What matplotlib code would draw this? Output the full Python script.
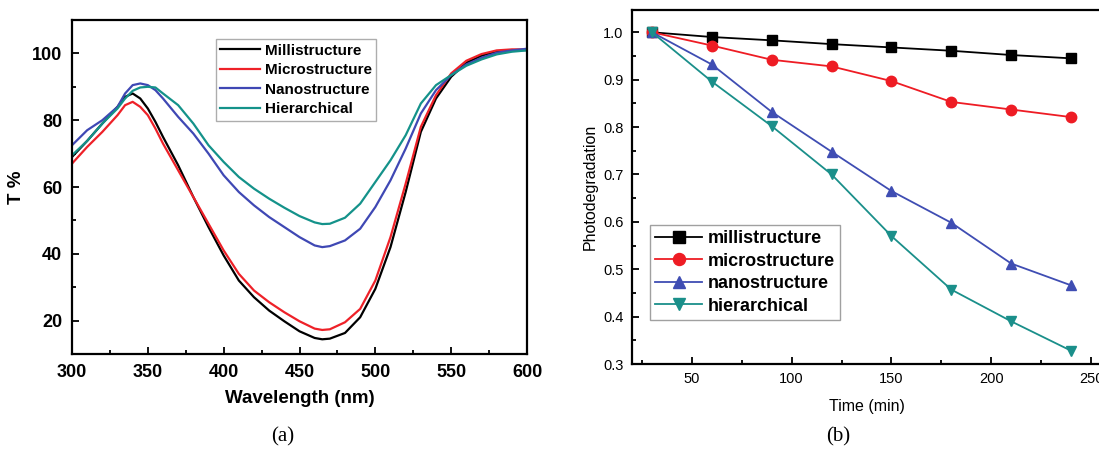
import matplotlib
matplotlib.use("Agg")
import matplotlib.pyplot as plt
from matplotlib.ticker import MultipleLocator, FormatStrFormatter

plt.rcParams['font.family'] = ['Liberation Sans', 'DejaVu Sans']

# ---- panel (a): transmittance spectra ----
wavelength = [300, 310, 320, 330, 335, 340, 345, 350, 355, 360, 370, 380, 390, 400,
              410, 420, 430, 440, 450, 460, 465, 470, 480, 490, 500, 510, 520, 530,
              540, 550, 560, 570, 580, 590, 600]
t_milli = [69.0, 73.8, 79.0, 84.0, 87.0, 88.0, 86.5, 83.5, 79.5, 75.0, 66.5, 57.0, 48.0, 39.5,
           32.0, 27.0, 23.0, 19.8, 16.8, 14.8, 14.4, 14.6, 16.3, 21.0, 29.5, 42.0, 58.5, 76.5,
           86.5, 93.0, 97.2, 99.3, 100.6, 101.0, 101.0]
t_micro = [67.0, 72.0, 76.5, 81.5, 84.5, 85.5, 84.0, 81.5, 77.5, 73.0, 65.0, 57.0, 49.0, 41.0,
           34.0, 29.0, 25.5, 22.5, 19.8, 17.6, 17.2, 17.4, 19.5, 23.5, 32.0, 45.0, 61.0, 78.0,
           87.5, 94.0, 97.8, 99.8, 100.9, 101.2, 101.2]
t_nano = [72.5, 77.0, 80.0, 84.0, 88.0, 90.5, 91.0, 90.5, 89.0, 86.5, 81.0, 76.0, 70.0, 63.5,
          58.5, 54.5, 51.0, 48.0, 45.0, 42.5, 42.0, 42.3, 44.0, 47.5, 54.0, 62.0, 71.5, 82.0,
          89.0, 93.5, 96.7, 98.7, 100.2, 100.9, 101.4]
t_hier = [69.5, 73.8, 79.0, 83.5, 86.5, 88.8, 89.8, 90.0, 89.8, 88.0, 84.5, 79.0, 72.5, 67.5,
          63.0, 59.5, 56.5, 53.8, 51.3, 49.4, 48.9, 49.0, 50.8, 55.0, 61.5, 68.0, 75.5, 85.0,
          90.5, 93.5, 96.3, 98.2, 99.7, 100.5, 100.9]
labels_a = ['Millistructure', 'Microstructure', 'Nanostructure', 'Hierarchical']

# ---- panel (b): photodegradation vs time ----
time_min = [30, 60, 90, 120, 150, 180, 210, 240]
p_milli = [1.0, 0.990, 0.983, 0.975, 0.968, 0.961, 0.952, 0.945]
p_micro = [1.0, 0.972, 0.942, 0.928, 0.897, 0.853, 0.837, 0.821]
p_nano = [1.0, 0.932, 0.832, 0.748, 0.665, 0.598, 0.512, 0.466]
p_hier = [1.0, 0.896, 0.802, 0.700, 0.570, 0.457, 0.390, 0.328]
labels_b = ['millistructure', 'microstructure', 'nanostructure', 'hierarchical']

colors_a = ['#000000', '#ee2128', '#3f48b4', '#14928a']
colors_b = ['#000000', '#ee1c24', '#3f4db3', '#1a8f8a']
markers_b = ['s', 'o', '^', 'v']

W, H = 1099, 450
fig = plt.figure(figsize=(W / 100, H / 100), dpi=100)

# axes placed in pixel terms
axa = fig.add_axes([72 / W, (H - 354) / H, (527 - 72) / W, 334 / H])
axb = fig.add_axes([632 / W, (H - 364) / H, (1101 - 632) / W, 354 / H])

# panel a
for y, c, lab in zip([t_milli, t_micro, t_nano, t_hier], colors_a, labels_a):
    axa.plot(wavelength, y, color=c, lw=1.6, label=lab)
axa.set_xlim(300, 600)
axa.set_ylim(10, 110)
axa.xaxis.set_major_locator(MultipleLocator(50))
axa.xaxis.set_minor_locator(MultipleLocator(25))
axa.yaxis.set_minor_locator(MultipleLocator(10))
axa.set_yticks([20, 40, 60, 80, 100])
axa.tick_params(which='both', direction='in', width=1.3)
axa.tick_params(which='major', length=5, labelsize=13, pad=7)
axa.tick_params(which='minor', length=3)
for lbl in axa.get_xticklabels() + axa.get_yticklabels():
    lbl.set_fontweight('bold')
for s in axa.spines.values():
    s.set_linewidth(1.6)
axa.set_xlabel('Wavelength (nm)', fontsize=13.5, fontweight='bold', labelpad=7)
axa.set_ylabel('T %', fontsize=13.5, fontweight='bold')
axa.yaxis.set_label_coords(-0.103, 0.5)
leg = axa.legend(loc='upper left', bbox_to_anchor=(0.316, 0.943), fancybox=False,
                 edgecolor='#999999', prop={'weight': 'bold', 'size': 11},
                 handlelength=2.6, handletextpad=0.3, labelspacing=0.36,
                 borderpad=0.3, borderaxespad=0)
leg.get_frame().set_linewidth(1.0)

# panel b
for y, c, m, lab in zip([p_milli, p_micro, p_nano, p_hier], colors_b, markers_b, labels_b):
    axb.plot(time_min, y, color=c, marker=m, ms=7.5, lw=1.3, label=lab)
axb.set_xlim(20, 255)
axb.set_ylim(0.3, 1.047)
axb.xaxis.set_major_locator(MultipleLocator(50))
axb.xaxis.set_minor_locator(MultipleLocator(25))
axb.yaxis.set_major_locator(MultipleLocator(0.1))
axb.yaxis.set_minor_locator(MultipleLocator(0.05))
axb.yaxis.set_major_formatter(FormatStrFormatter('%.1f'))
axb.tick_params(which='both', direction='in', width=1.3)
axb.tick_params(which='major', length=5, labelsize=10.5, pad=6)
axb.tick_params(which='minor', length=3)
for s in axb.spines.values():
    s.set_linewidth(1.6)
axb.set_xlabel('Time (min)', fontsize=11.5, labelpad=9)
axb.set_ylabel('Photodegradation', fontsize=11.5, labelpad=4)
legb = axb.legend(loc='upper left', bbox_to_anchor=(0.038, 0.393), fancybox=False,
                  edgecolor='#888888', prop={'weight': 'bold', 'size': 13},
                  handlelength=2.6, handletextpad=0.3, labelspacing=0.3,
                  borderpad=0.3, borderaxespad=0, markerscale=1.15)
legb.get_frame().set_linewidth(1.0)

fig.text(283 / W, 1 - 437 / H, '(a)', ha='center', va='center', fontsize=15,
         family='Liberation Serif')
fig.text(838 / W, 1 - 437 / H, '(b)', ha='center', va='center', fontsize=15,
         family='Liberation Serif')

fig.savefig('out.png', dpi=100)
